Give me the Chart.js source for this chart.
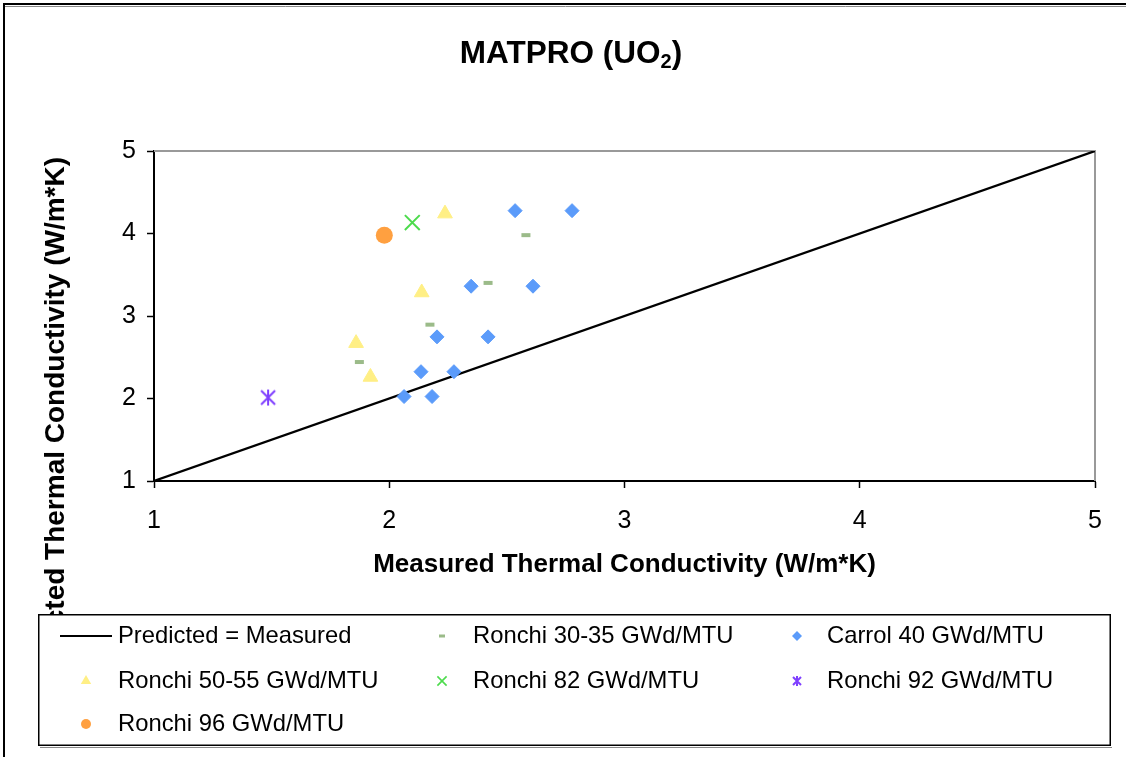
<!DOCTYPE html>
<html><head><meta charset="utf-8">
<script src="https://cdn.jsdelivr.net/npm/chart.js@4.4.1/dist/chart.umd.min.js"></script>
<style>html,body{margin:0;padding:0;background:#fff;overflow:hidden}canvas{display:block}</style>
</head><body>
<canvas id="c" width="1126" height="757"></canvas>
<script>
// ---- text ----
const titleMain = 'MATPRO (UO';
const titleSub = '2';
const titleEnd = ')';
const xTitle = 'Measured Thermal Conductivity (W/m*K)';
const yTitle = 'Predicted Thermal Conductivity (W/m*K)';
const xTicks = [1, 2, 3, 4, 5];
const yTicks = [1, 2, 3, 4, 5];
const seriesNames = ['Predicted = Measured', 'Ronchi 30-35 GWd/MTU', 'Carrol 40 GWd/MTU',
  'Ronchi 50-55 GWd/MTU', 'Ronchi 82 GWd/MTU', 'Ronchi 92 GWd/MTU', 'Ronchi 96 GWd/MTU'];

// ---- data ----
const lineX = [1, 5];
const lineY = [1, 5];
const r3035X = [2.581, 2.420, 2.173, 1.873];
const r3035Y = [3.980, 3.401, 2.895, 2.442];
const carrolX = [2.535, 2.777, 2.348, 2.611, 2.203, 2.420, 2.135, 2.275, 2.063, 2.182];
const carrolY = [4.277, 4.277, 3.361, 3.361, 2.747, 2.747, 2.325, 2.325, 2.024, 2.024];
const r5055X = [2.237, 2.138, 1.859, 1.920];
const r5055Y = [4.241, 3.285, 2.671, 2.261];
const r82X = [2.098];
const r82Y = [4.133];
const r92X = [1.485];
const r92Y = [2.012];
const r96X = [1.979];
const r96Y = [3.980];

const FONT = "'Liberation Sans', Arial, sans-serif";
Chart.defaults.font.family = FONT;
Chart.defaults.color = '#000';

const colLine = '#000000', col3035 = '#9BBB89', colCarrol = '#5B9BFA', col5055 = '#FFEF85',
  col82 = '#4DDB4D', col92 = '#7F3FFF', col96 = '#FFA040';

function pts(xs, ys) { return xs.map((x, i) => ({ x: x, y: ys[i] })); }

function makeStar(size, half, color, lw) {
  const c = document.createElement('canvas');
  c.width = c.height = size;
  const g = c.getContext('2d');
  g.strokeStyle = color; g.lineWidth = lw;
  const m = size / 2;
  g.beginPath();
  g.moveTo(m - half, m - half); g.lineTo(m + half, m + half);
  g.moveTo(m + half, m - half); g.lineTo(m - half, m + half);
  g.moveTo(m, m - half - 1); g.lineTo(m, m + half + 1);
  g.stroke();
  return c;
}
const starBig = makeStar(22, 7, col92, 2);
const starSmall = makeStar(14, 4, col92, 2);

const decor = {
  id: 'decor',
  beforeDatasetsDraw(chart) {
    const { ctx, chartArea: a } = chart;
    ctx.save();
    ctx.strokeStyle = '#999999'; ctx.lineWidth = 2;
    ctx.beginPath();
    ctx.moveTo(a.left, a.top); ctx.lineTo(a.right, a.top); ctx.lineTo(a.right, a.bottom);
    ctx.stroke();
    ctx.restore();
  },
  afterDraw(chart) {
    const ctx = chart.ctx;
    ctx.save();
    // outer frame
    ctx.strokeStyle = '#000'; ctx.lineWidth = 2;
    ctx.beginPath(); ctx.moveTo(4, 757); ctx.lineTo(4, 4); ctx.lineTo(1126, 4); ctx.stroke();
    ctx.strokeStyle = '#888'; ctx.lineWidth = 1;
    ctx.beginPath(); ctx.moveTo(5, 6.5); ctx.lineTo(1126, 6.5); ctx.stroke();
    // title
    ctx.fillStyle = '#000';
    ctx.textBaseline = 'alphabetic';
    const fMain = 'bold 31.5px ' + FONT, fSub = 'bold 20px ' + FONT;
    ctx.font = fMain; const w1 = ctx.measureText(titleMain).width, w3 = ctx.measureText(titleEnd).width;
    ctx.font = fSub; const w2 = ctx.measureText(titleSub).width;
    let tx = 571 - (w1 + w2 + w3) / 2;
    const ty = 63;
    ctx.textAlign = 'left';
    ctx.font = fMain; ctx.fillText(titleMain, tx, ty); tx += w1;
    ctx.font = fSub; ctx.fillText(titleSub, tx, ty + 5); tx += w2;
    ctx.font = fMain; ctx.fillText(titleEnd, tx, ty);
    // y title
    ctx.save();
    ctx.translate(64, 157); ctx.rotate(-Math.PI / 2);
    ctx.font = 'bold 28px ' + FONT; ctx.textAlign = 'right'; ctx.textBaseline = 'alphabetic';
    ctx.fillText(yTitle, 0, 0);
    ctx.restore();
    // legend box
    ctx.fillStyle = '#fff';
    ctx.fillRect(38, 614, 1072, 131);
    ctx.strokeStyle = '#888'; ctx.lineWidth = 1;
    ctx.beginPath(); ctx.moveTo(40, 747.5); ctx.lineTo(1112, 747.5); ctx.stroke();
    ctx.strokeStyle = '#000'; ctx.lineWidth = 1.5;
    ctx.strokeRect(38.75, 614.75, 1071.5, 130.5);
    const rows = [636, 681, 724];
    const items = [
      { kind: 'line', mx: 86, tx: 118, y: rows[0] },
      { style: 'line', color: col3035, r: 3, bw: 3, mx: 442, tx: 473, y: rows[0] },
      { style: 'rectRot', color: colCarrol, r: 5, bw: 0, mx: 797, tx: 827, y: rows[0] },
      { style: 'triangle', color: col5055, r: 6, bw: 0, mx: 86, tx: 118, y: rows[1] },
      { style: 'crossRot', color: col82, r: 6.5, bw: 1.6, mx: 442, tx: 473, y: rows[1] },
      { style: starSmall, color: col92, r: 5, bw: 0, mx: 797, tx: 827, y: rows[1] },
      { style: 'circle', color: col96, r: 5, bw: 0, mx: 86, tx: 118, y: rows[2] }
    ];
    items.forEach((it, i) => {
      if (it.kind === 'line') {
        ctx.strokeStyle = '#000'; ctx.lineWidth = 2;
        ctx.beginPath(); ctx.moveTo(60, it.y); ctx.lineTo(112, it.y); ctx.stroke();
      } else {
        ctx.fillStyle = it.color; ctx.strokeStyle = it.color; ctx.lineWidth = it.bw;
        Chart.helpers.drawPoint(ctx, { pointStyle: it.style, radius: it.r, rotation: 0, borderWidth: it.bw }, it.mx, it.y);
      }
      ctx.fillStyle = '#000'; ctx.font = '23.8px ' + FONT; ctx.textAlign = 'left'; ctx.textBaseline = 'middle';
      ctx.fillText(seriesNames[i], it.tx, it.y);
    });
    ctx.restore();
  }
};

const axisCommon = {
  type: 'linear', min: 1, max: 5,
  grid: { drawOnChartArea: false, drawTicks: true, tickLength: 7, tickColor: '#000', tickWidth: 1.5 },
  border: { display: true, color: '#000', width: 2 }
};

new Chart(document.getElementById('c'), {
  type: 'scatter',
  data: {
    datasets: [
      { label: seriesNames[0], data: pts(lineX, lineY), showLine: true, borderColor: colLine, borderWidth: 2.2, pointRadius: 0, order: 5 },
      { label: seriesNames[1], data: pts(r3035X, r3035Y), pointStyle: 'line', pointRadius: 4.5, borderColor: col3035, backgroundColor: col3035, pointBorderWidth: 4, order: 1 },
      { label: seriesNames[2], data: pts(carrolX, carrolY), pointStyle: 'rectRot', pointRadius: 7, borderColor: colCarrol, backgroundColor: colCarrol, pointBorderWidth: 1, order: 1 },
      { label: seriesNames[3], data: pts(r5055X, r5055Y), pointStyle: 'triangle', pointRadius: 8.5, borderColor: col5055, backgroundColor: col5055, pointBorderWidth: 1, order: 1 },
      { label: seriesNames[4], data: pts(r82X, r82Y), pointStyle: 'crossRot', pointRadius: 10.5, borderColor: col82, backgroundColor: col82, pointBorderWidth: 2, order: 1 },
      { label: seriesNames[5], data: pts(r92X, r92Y), pointStyle: starBig, pointRadius: 8, borderColor: col92, backgroundColor: col92, order: 1 },
      { label: seriesNames[6], data: pts(r96X, r96Y), pointStyle: 'circle', pointRadius: 8.5, borderColor: col96, backgroundColor: col96, pointBorderWidth: 0, order: 1 }
    ]
  },
  options: {
    responsive: false, animation: false, devicePixelRatio: 1,
    layout: { padding: { left: 0, top: 151, right: 31, bottom: 173 } },
    plugins: { legend: { display: false }, tooltip: { enabled: false }, title: { display: false } },
    scales: {
      x: Object.assign({}, axisCommon, {
        afterBuildTicks: s => { s.ticks = xTicks.map(v => ({ value: v })); },
        afterFit: s => { s.height = 103; },
        ticks: { font: { size: 25 }, color: '#000', padding: 18, maxRotation: 0 },
        title: { display: true, text: xTitle, font: { size: 26, weight: 'bold' }, color: '#000', padding: { top: 4, bottom: 4 } }
      }),
      y: Object.assign({}, axisCommon, {
        afterBuildTicks: s => { s.ticks = yTicks.map(v => ({ value: v })); },
        afterFit: s => { s.width = 154; },
        ticks: { font: { size: 25 }, color: '#000', padding: 11 }
      })
    }
  },
  plugins: [decor]
});
</script>
</body></html>
